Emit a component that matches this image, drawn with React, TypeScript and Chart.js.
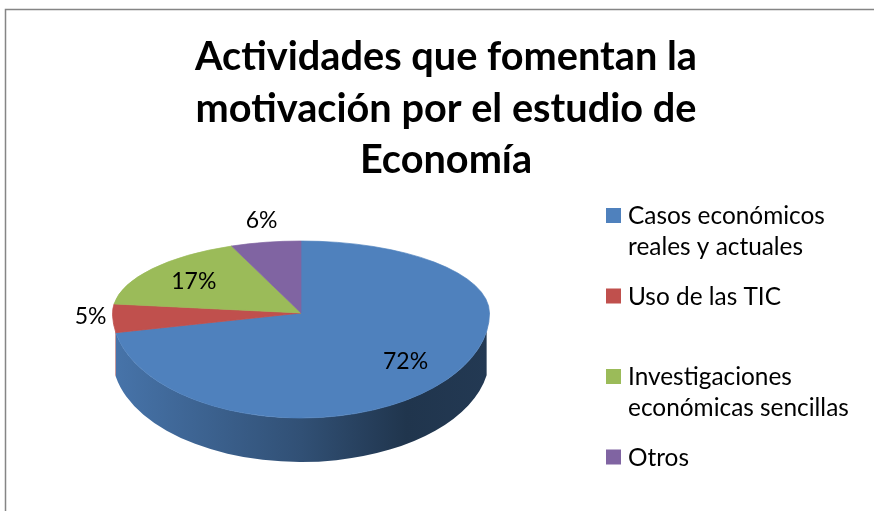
import React, { useEffect, useRef } from 'react';
import { Chart, registerables } from 'chart.js';

Chart.register(...registerables);

// ---- data ----
const TITLE_LINES = ['Actividades que fomentan la', 'motivación por el estudio de', 'Economía'];
const CATEGORY_LINES = [
  ['Casos económicos', 'reales y actuales'],
  ['Uso de las TIC'],
  ['Investigaciones', 'económicas sencillas'],
  ['Otros'],
];
const VALUES = [72, 5, 17, 6];
const COLORS = ['#4F81BD', '#C0504D', '#9BBB59', '#8064A2'];

// ---- style / layout ----
const W = 874;
const H = 511;
const FONT = 'Lato, "Liberation Sans", sans-serif';
const APEX_Y = 313; // screen y of pie centre
const RY_BACK = 72; // vertical radius of the far half
const RY_FRONT = 105; // vertical radius of the near half
const DEPTH = 44; // thickness of the pie
const SIDE_INSET = (10 * Math.PI) / 180; // silhouette tangent offset
const INNER = 0.72;
const LABEL_PAD = 22;
const TITLE_X = 446;
const TITLE_Y0 = 70;
const TITLE_STEP = 51.5;
const LEG_MARK_X = 606;
const LEG_TEXT_X = 628;
const LEG_Y0 = 224;
const LEG_STEP = 80.5;
const LEG_LINE = 31;

function shade(hex: string, f: number) {
  const n = parseInt(hex.slice(1), 16);
  const r = Math.round(((n >> 16) & 255) * f);
  const g = Math.round(((n >> 8) & 255) * f);
  const b = Math.round((n & 255) * f);
  return `rgb(${r},${g},${b})`;
}

const framePlugin = {
  id: 'frame',
  beforeDraw(chart: any) {
    const ctx = chart.ctx;
    ctx.save();
    ctx.fillStyle = '#ffffff';
    ctx.fillRect(0, 0, chart.width, chart.height);
    ctx.strokeStyle = '#858585';
    ctx.lineWidth = 1.5;
    ctx.beginPath();
    ctx.moveTo(5.5, chart.height);
    ctx.lineTo(5.5, 9.5);
    ctx.lineTo(chart.width, 9.5);
    ctx.stroke();
    ctx.restore();
  },
};

const pie3dPlugin = {
  id: 'pie3d',
  beforeDatasetsDraw(chart: any) {
    const ctx = chart.ctx;
    const meta = chart.getDatasetMeta(0);
    const arcs = meta.data;
    if (!arcs.length) return false;
    const p = arcs[0].getProps(['x', 'y', 'outerRadius'], true);
    const cx = p.x;
    const cy = p.y;
    const r = p.outerRadius;

    // sides (visible front part only)
    arcs.forEach((arc: any, i: number) => {
      const { startAngle, endAngle } = arc.getProps(['startAngle', 'endAngle'], true);
      const a = Math.max(startAngle, SIDE_INSET);
      const b = Math.min(endAngle, Math.PI - SIDE_INSET);
      if (b <= a) return;
      const c = COLORS[i % COLORS.length];
      const g = ctx.createLinearGradient(cx - r, 0, cx + r, 0);
      g.addColorStop(0, shade(c, 0.9));
      g.addColorStop(0.5, shade(c, 0.62));
      g.addColorStop(0.78, shade(c, 0.41));
      g.addColorStop(1, shade(c, 0.44));
      ctx.save();
      ctx.beginPath();
      ctx.ellipse(cx, APEX_Y, r, RY_FRONT, 0, a, b, false);
      ctx.ellipse(cx, APEX_Y + DEPTH, r, RY_FRONT, 0, b, a, true);
      ctx.closePath();
      ctx.fillStyle = g;
      ctx.fill();
      ctx.restore();
    });

    // top surface, far and near halves
    const halves = [
      { y0: 0, y1: APEX_Y, ry: RY_BACK },
      { y0: APEX_Y, y1: chart.height, ry: RY_FRONT },
    ];
    halves.forEach((h) => {
      ctx.save();
      ctx.beginPath();
      ctx.rect(0, h.y0, chart.width, h.y1 - h.y0);
      ctx.clip();
      ctx.translate(0, APEX_Y);
      ctx.scale(1, h.ry / r);
      ctx.translate(0, -cy);
      arcs.forEach((a: any) => a.draw(ctx, chart.chartArea));
      ctx.restore();
    });

    // percentage labels
    const total = VALUES.reduce((s, v) => s + v, 0);
    ctx.save();
    ctx.font = `23px ${FONT}`;
    ctx.textAlign = 'center';
    ctx.textBaseline = 'middle';
    ctx.fillStyle = '#000000';
    arcs.forEach((arc: any, i: number) => {
      const { startAngle, endAngle } = arc.getProps(['startAngle', 'endAngle'], true);
      const mid = (startAngle + endAngle) / 2;
      const cos = Math.cos(mid);
      const sin = Math.sin(mid);
      const ry = sin < 0 ? RY_BACK : RY_FRONT;
      const share = VALUES[i] / total;
      let x: number;
      let y: number;
      if (share < 0.1) {
        x = cx + (r + LABEL_PAD) * cos;
        y = APEX_Y + (ry + LABEL_PAD) * sin;
      } else {
        x = cx + r * INNER * cos;
        y = APEX_Y + ry * INNER * sin;
      }
      ctx.fillText(`${Math.round(share * 100)}%`, x, y);
    });
    ctx.restore();
    return false;
  },
};

const textPlugin = {
  id: 'texts',
  afterDraw(chart: any) {
    const ctx = chart.ctx;
    ctx.save();
    ctx.fillStyle = '#000000';
    ctx.textBaseline = 'alphabetic';
    // title
    ctx.font = `bold 39.7px ${FONT}`;
    ctx.textAlign = 'center';
    TITLE_LINES.forEach((t, i) => ctx.fillText(t, TITLE_X, TITLE_Y0 + i * TITLE_STEP));
    // legend
    ctx.font = `24.4px ${FONT}`;
    ctx.textAlign = 'left';
    CATEGORY_LINES.forEach((lines, i) => {
      const base = LEG_Y0 + i * LEG_STEP;
      ctx.fillStyle = COLORS[i];
      ctx.fillRect(LEG_MARK_X, base - 16, 15, 15);
      ctx.fillStyle = '#000000';
      lines.forEach((t, j) => ctx.fillText(t, LEG_TEXT_X, base + j * LEG_LINE));
    });
    ctx.restore();
  },
};

export default function App() {
  const ref = useRef<HTMLCanvasElement>(null);
  useEffect(() => {
    if (!ref.current) return;
    const chart = new Chart(ref.current, {
      type: 'pie',
      data: {
        labels: CATEGORY_LINES.map((l) => l.join(' ')),
        datasets: [
          {
            data: VALUES,
            backgroundColor: COLORS,
            borderColor: COLORS,
            borderWidth: 1,
          },
        ],
      },
      options: {
        responsive: false,
        animation: false,
        devicePixelRatio: 1,
        events: [],
        layout: { padding: { left: 112, right: 384, top: 66, bottom: 67 } },
        plugins: {
          legend: { display: false },
          title: { display: false },
          tooltip: { enabled: false },
        },
      },
      plugins: [framePlugin, pie3dPlugin, textPlugin],
    } as any);
    return () => chart.destroy();
  }, []);
  return (
    <div style={{ position: 'fixed', left: 0, top: 0, width: W, height: H, background: '#fff' }}>
      <canvas ref={ref} width={W} height={H} style={{ display: 'block' }} />
    </div>
  );
}
